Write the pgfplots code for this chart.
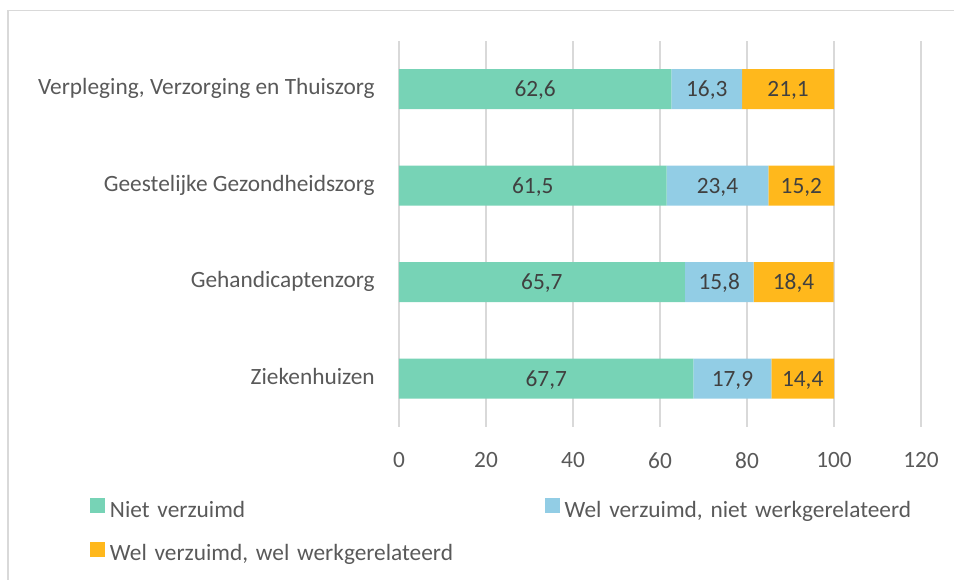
\documentclass[border=0pt]{standalone}
\usepackage{fontspec}
\setmainfont{Carlito}
\usepackage{pgfplots}
\pgfplotsset{compat=1.18}
\usepackage{pgfplotstable}

\definecolor{nietverz}{HTML}{77D3B6}
\definecolor{welniet}{HTML}{92CDE5}
\definecolor{welwel}{HTML}{FFB81C}
\definecolor{rastergrijs}{HTML}{D9D9D9}
\definecolor{labelgrijs}{HTML}{595959}
\definecolor{waardegrijs}{HTML}{404040}

% pos 0 = Ziekenhuizen ... 3 = Verpleging, Verzorging en Thuiszorg
\pgfplotstableread{
pos niet welniet welwel
0 67.7 17.9 14.4
1 65.7 15.8 18.4
2 61.5 23.4 15.2
3 62.6 16.3 21.1
}\verzuim

\begin{document}
\begin{tikzpicture}[font=\fontsize{17.5}{21}\selectfont]
% beeld 954 x 580 px, 1 px = 0.75pt
\path[use as bounding box] (0pt,0pt) rectangle (715.5pt,435pt);
\draw[rastergrijs, line width=1pt] (6pt,-20pt) rectangle (740pt,427pt);
\begin{axis}[
  at={(299.25pt,114.75pt)}, anchor=south west,
  scale only axis,
  width=391.5pt, height=289.5pt,
  xbar stacked, bar width=30pt,
  xmin=0, xmax=120, xtick={0,20,...,120},
  ymin=-0.5, ymax=3.5, ytick={0,1,2,3},
  yticklabels={Ziekenhuizen, Gehandicaptenzorg, Geestelijke Gezondheidszorg, {Verpleging, Verzorging en Thuiszorg}},
  xmajorgrids,
  grid style={draw=rastergrijs, line width=1pt},
  axis line style={draw=none},
  major tick length=0pt,
  tick style={draw=none},
  /pgf/number format/.cd, use comma, assume math mode=true,
  /pgfplots/.cd,
  xticklabel style={font=\fontsize{17.5}{21}\selectfont, text=labelgrijs, anchor=north, inner sep=0pt, yshift=-18.75pt},
  yticklabel style={font=\fontsize{17.5}{21}\selectfont, text=labelgrijs, anchor=base east, inner sep=0pt, xshift=-18pt, yshift=-4.2pt},
  point meta=explicit symbolic,
  nodes near coords={\pgfmathprintnumber[fixed, precision=1, fixed zerofill, use comma]{\pgfplotspointmeta}},
  every node near coord/.append style={font=\fontsize{17.5}{21}\selectfont, text=waardegrijs, anchor=base, inner sep=0pt, yshift=-5.5pt},
  legend columns=2,
  legend cell align=left,
  legend image code/.code={\fill[#1] (0pt,-0.75pt) rectangle (11.25pt,10.5pt);},
  legend style={at={(-0.592,-0.1839)}, anchor=north west, draw=none, fill=none,
    inner sep=0pt, outer sep=0pt, row sep=14.25pt, column sep=0pt,
    font=\fontsize{17.5}{21}\selectfont, text=labelgrijs,
    /tikz/every odd column/.append style={column sep=3.75pt},
    nodes={inner sep=0pt, text height=12pt, text depth=4pt, text width=326pt, align=left}},
]
\addplot[fill=nietverz, draw=none] table[x=niet, y=pos, meta=niet] {\verzuim};
\addplot[fill=welniet, draw=none] table[x=welniet, y=pos, meta=welniet] {\verzuim};
\addplot[fill=welwel, draw=none] table[x=welwel, y=pos, meta=welwel] {\verzuim};
\legend{Niet verzuimd, {Wel verzuimd, niet werkgerelateerd}, {Wel verzuimd, wel werkgerelateerd}}
\end{axis}
\end{tikzpicture}
\end{document}
